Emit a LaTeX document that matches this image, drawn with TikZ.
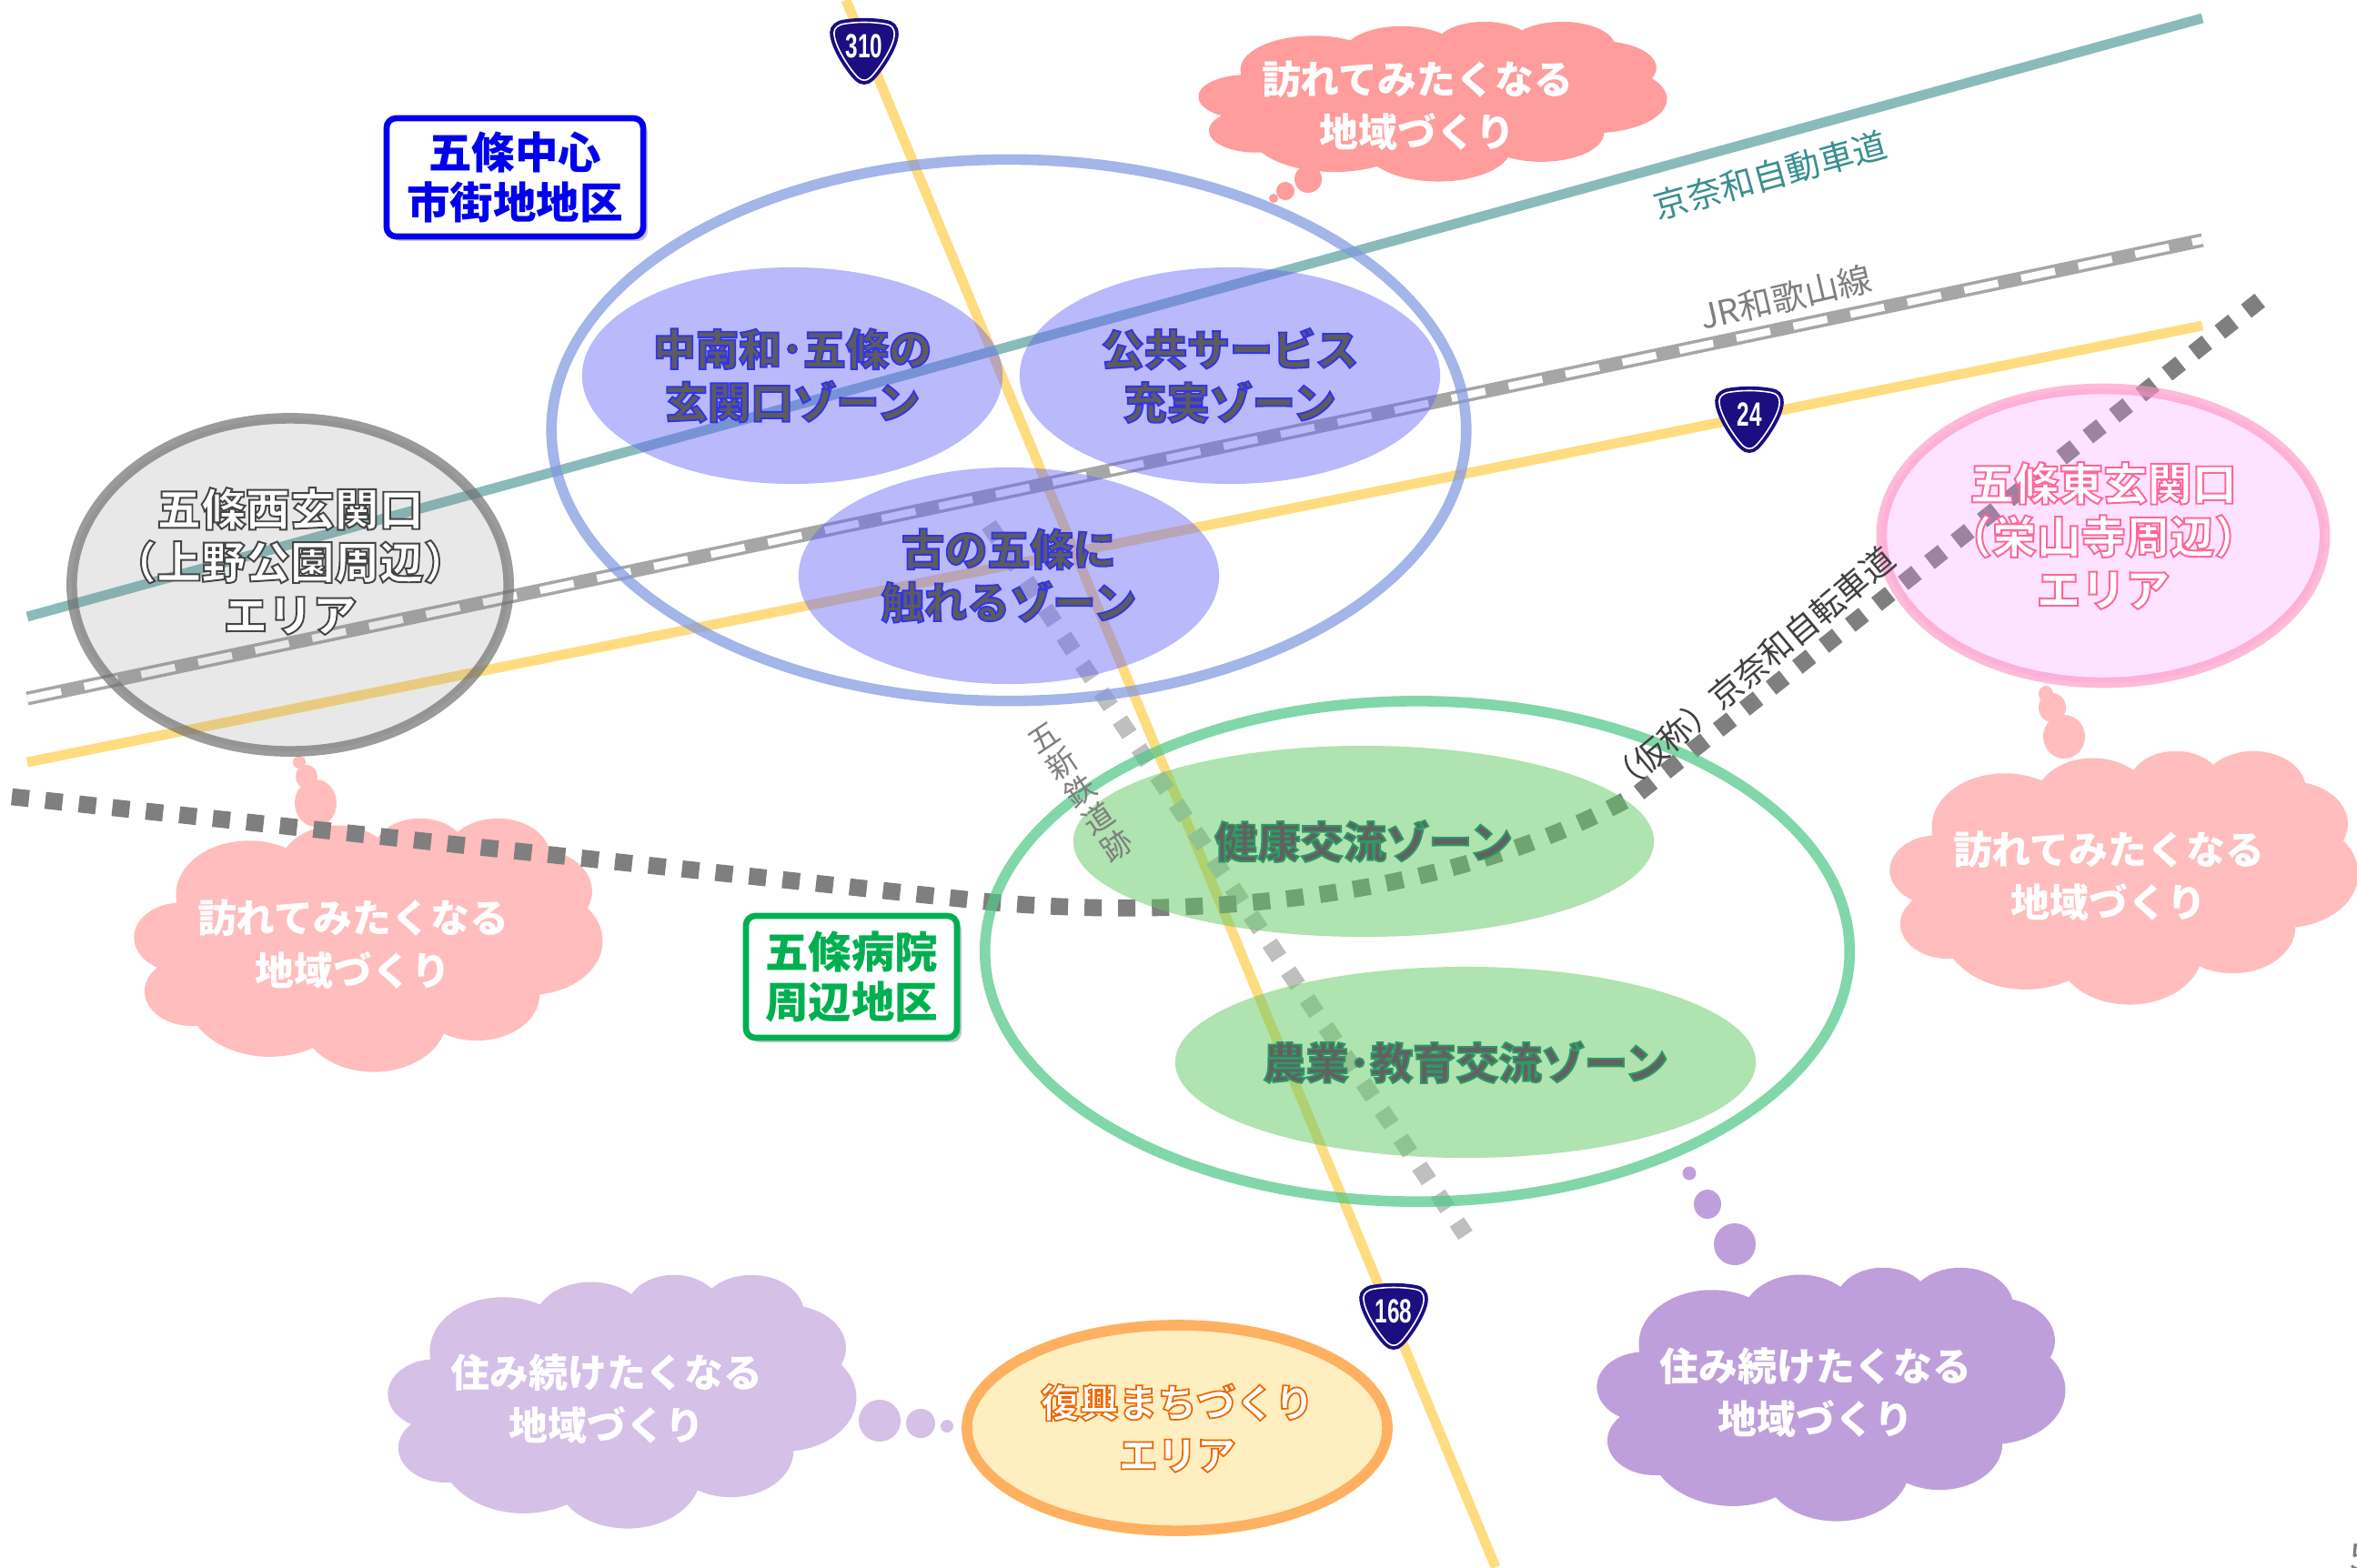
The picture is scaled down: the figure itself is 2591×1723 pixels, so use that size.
\documentclass[tikz,border=0pt]{standalone}
\usepackage{fontspec}
\usetikzlibrary{shapes.geometric, shadows}
\setmainfont{Noto Sans CJK JP}
\newfontfamily\ringfont[FakeBold=4]{Noto Sans CJK JP Black}
\newfontfamily\signfont[FakeStretch=.66]{Liberation Sans}
\definecolor{roadyellow}{HTML}{FFDC80}
\definecolor{roadteal}{HTML}{8ABBBB}
\definecolor{railgray}{HTML}{A6A6A6}
\definecolor{pathgray}{HTML}{7F7F7F}
\definecolor{oldgray}{HTML}{BFBFBF}
\definecolor{signblue}{HTML}{1C0D80}
\definecolor{cloudpink}{HTML}{FF9C9C}
\definecolor{cloudrose}{HTML}{FFBDBD}
\definecolor{cloudlilac}{HTML}{D5C0E8}
\definecolor{cloudviolet}{HTML}{BF9FDB}
\definecolor{ringblue}{HTML}{8098E0}
\definecolor{ringgreen}{HTML}{50C888}
\definecolor{zoneblue}{HTML}{6060F8}
\definecolor{zonegreen}{HTML}{60C860}
\definecolor{eastfill}{HTML}{F890FF}
\definecolor{eastring}{HTML}{FF90C0}
\definecolor{orangefill}{HTML}{FFEEC0}
\definecolor{orangering}{HTML}{FFB060}
\definecolor{labelblue}{HTML}{0000EE}
\definecolor{labelgreen}{HTML}{00B050}
\definecolor{labelteal}{HTML}{3A8F8F}

\begin{document}
\begin{tikzpicture}[
    x=0.01cm, y=-0.01cm,
    road/.style={roadyellow, line width=3.1pt},
    expressway/.style={roadteal, line width=3.1pt},
    railbase/.style={railgray, line width=4.3pt},
    raildash/.style={white, line width=2.3pt, dash pattern=on 10.8pt off 7.4pt},
    bikepath/.style={pathgray, line width=5.3pt, dash pattern=on 5.4pt off 5.135pt},
    oldrail/.style={oldgray, line width=5.3pt, dash pattern=on 5.4pt off 5.1pt},
    ring/.style={ellipse, inner sep=0pt, line width=3.3pt},
    zone/.style={ellipse, inner sep=0pt, fill opacity=#1, text opacity=1},
    ringtext/.style 2 args={font=\ringfont\fontsize{13.9}{16.6}\selectfont, align=center,
        execute at begin node={\special{pdf:bcolor [#2] [#1]}},
        execute at end node={\special{pdf:ecolor}}},
    cloudlabel/.style={font=\bfseries\fontsize{12.2}{16.4}\selectfont, align=center, white},
    bubble/.style={ellipse, inner sep=0pt, fill=#1},
    area/.style={rectangle, rounded corners=3pt, fill=white, line width=1.9pt, align=center,
        inner sep=0pt, font=\bfseries\fontsize{13.5}{15.6}\selectfont,
        drop shadow={shadow xshift=1.4pt, shadow yshift=-1.4pt, opacity=.45}},
    linelabel/.style={font=\fontsize{#1}{#1}\selectfont},
    pics/roadsign/.style={code={
        \path[scale=.92, fill=signblue, draw=signblue, line width=1.1pt, double=white, double distance=.45pt]
            (-36,-22) .. controls (-36,-28) and (-30,-31) .. (-26,-32)
            .. controls (-10,-35) and (10,-35) .. (26,-32)
            .. controls (32,-31) and (36,-28) .. (36,-20)
            .. controls (36,-5) and (15,25) .. (7,32)
            .. controls (3,36) and (-3,36) .. (-7,32)
            .. controls (-15,25) and (-36,-5) .. (-36,-22) -- cycle;
        \node[white, font=\signfont\bfseries\fontsize{10.5}{10.5}\selectfont] (-num) at (0,-5) {#1};
    }},
    pics/cloudblob/.style={code={
        \path[x=0.0119cm, y=-0.00644cm, shift={(-216,-216)}, fill=#1] (39,143.7)
            foreach \a/\b/\s/\w in {67.53/91.90/-190.487/123.781, 53.33/72.67/-144.102/89.945,
                43.65/59.45/-145.808/99.723, 48.57/65.95/-130.986/117.242,
                53.33/72.73/-78.709/109.027, 67.75/92.20/-46.267/130.269,
                57.85/78.67/0.625/114.033, 67.52/92.15/22.452/115.173,
                77.20/105.43/66.243/75.711, 43.60/59.18/-274.942/146.736,
                43.45/59.45/-246.829/152.519} {
              arc[x radius=\a, y radius=\b,
                  start angle={atan2(sin(\s)/\b,cos(\s)/\a)},
                  delta angle={Mod(atan2(sin(\s+\w)/\b,cos(\s+\w)/\a)-atan2(sin(\s)/\b,cos(\s)/\a),360)}]
            } -- cycle;
    }},
    bluezone/.style={zone=.44, fill=zoneblue, minimum width=4.62cm, minimum height=2.38cm,
        ringtext={.2 .2 .93}{.36 .36 .36}, font=\ringfont\fontsize{13.4}{16.6}\selectfont},
    greenzone/.style={zone=.5, fill=zonegreen, minimum width=6.38cm, minimum height=2.1cm,
        ringtext={.18 .6 .4}{.38 .38 .38}, font=\ringfont\fontsize{13.4}{16.6}\selectfont}
]
\useasboundingbox (0,0) rectangle (2591,1723);

% Clouds
\pic[yscale=.63] (wishn) at (1575,111) {cloudblob=cloudpink};
\pic (wishw) at (405,1038) {cloudblob=cloudrose};
\pic (wishe) at (2335,964) {cloudblob=cloudrose};
\pic (livew) at (684,1540) {cloudblob=cloudlilac};
\pic (livee) at (2013,1532) {cloudblob=cloudviolet};

% Bubbles
\node[bubble=cloudpink, minimum width=.3cm, minimum height=.3cm] (bn1) at (1438,197) {};
\node[bubble=cloudpink, minimum width=.2cm, minimum height=.2cm] (bn2) at (1413,210) {};
\node[bubble=cloudpink, minimum width=.1cm, minimum height=.1cm] (bn3) at (1400,218) {};
\node[bubble=cloudrose, minimum width=.46cm, minimum height=.52cm] (bw1) at (347,883) {};
\node[bubble=cloudrose, minimum width=.24cm, minimum height=.26cm] (bw2) at (337,854) {};
\node[bubble=cloudrose, minimum width=.14cm, minimum height=.14cm] (bw3) at (329,838) {};
\node[bubble=cloudrose, minimum width=.46cm, minimum height=.48cm] (be1) at (2269,810) {};
\node[bubble=cloudrose, minimum width=.3cm, minimum height=.32cm] (be2) at (2256,778) {};
\node[bubble=cloudrose, minimum width=.16cm, minimum height=.18cm] (be3) at (2249,763) {};
\node[bubble=cloudlilac, minimum width=.46cm, minimum height=.46cm] (bl1) at (967,1562) {};
\node[bubble=cloudlilac, minimum width=.32cm, minimum height=.32cm] (bl2) at (1012,1565) {};
\node[bubble=cloudlilac, minimum width=.14cm, minimum height=.14cm] (bl3) at (1041,1568) {};
\node[bubble=cloudviolet, minimum width=.46cm, minimum height=.46cm] (bv1) at (1907,1368) {};
\node[bubble=cloudviolet, minimum width=.3cm, minimum height=.32cm] (bv2) at (1877,1324) {};
\node[bubble=cloudviolet, minimum width=.15cm, minimum height=.15cm] (bv3) at (1857,1290) {};

% Line ends
\coordinate (r168a) at (930,0);
\coordinate (r168b) at (1644,1723);
\coordinate (r24a) at (30,838);
\coordinate (r24b) at (2421,358);
\coordinate (expa) at (30,678);
\coordinate (expb) at (2421,20);
\coordinate (jra) at (30,768);
\coordinate (jrb) at (2421,264);
\coordinate (bikea) at (13,876);
\coordinate (bikeb) at (1091,992);
\coordinate (bikec) at (1801,872);
\coordinate (biked) at (2492,324);
\coordinate (olda) at (1087,577);
\coordinate (oldb) at (1611,1358);

% Roads and rails
\draw[road] (r168a) -- (r168b);
\draw[road] (r24a) -- (r24b);
\draw[expressway] (expa) -- (expb);
\draw[railbase] (jra) -- (jrb);
\draw[raildash] (jra) -- (jrb);
\draw[oldrail] (olda) -- (oldb);
\draw[bikepath] (bikea) -- (bikeb) .. controls (1360,1015) and (1620,975) .. (bikec) -- (biked);

% Rings
\node[ring, draw=ringblue, draw opacity=.72, minimum width=10.05cm, minimum height=5.95cm] (center) at (1109,473) {};
\node[ring, draw=ringgreen, draw opacity=.72, minimum width=9.5cm, minimum height=5.5cm] (hospital) at (1558,1046) {};

% Zones
\node[bluezone] (gate) at (871,413) {中南和･五條の\\玄関口ゾーン};
\node[bluezone] (service) at (1352,413) {公共サービス\\充実ゾーン};
\node[bluezone] (old) at (1109,633) {古の五條に\\触れるゾーン};
\node[greenzone] (health) at (1499,925) {健康交流ゾーン};
\node[greenzone] (farm) at (1611,1168) {農業･教育交流ゾーン};

% Gateways
\node[ring, fill=gray, fill opacity=.18, draw=black!56, draw opacity=.7,
    minimum width=4.8cm, minimum height=3.66cm] (west) at (319,643) {};
\node[ringtext={.27 .27 .27}{1 1 1}] (westtext) at (319,617) {五條西玄関口\\（上野公園周辺）\\エリア};
\node[ring, fill=eastfill, fill opacity=.25, draw=eastring, draw opacity=.62, text opacity=1,
    minimum width=4.87cm, minimum height=3.23cm, ringtext={1 .4 .6}{1 1 1}] (east) at (2312,589) {五條東玄関口\\（栄山寺周辺）\\エリア};
\node[ring, fill=orangefill, draw=orangering, minimum width=4.62cm, minimum height=2.26cm,
    ringtext={.93 .4 0}{1 1 1}, font=\ringfont\fontsize{12.2}{16.4}\selectfont] (rebuild) at (1294,1570) {復興まちづくり\\エリア};

% Cloud texts
\node[cloudlabel] (wishntext) at (1558,116) {訪れてみたくなる\\地域づくり};
\node[cloudlabel] (wishwtext) at (388,1038) {訪れてみたくなる\\地域づくり};
\node[cloudlabel] (wishetext) at (2318,963) {訪れてみたくなる\\地域づくり};
\node[cloudlabel] (livewtext) at (667,1538) {住み続けたくなる\\地域づくり};
\node[cloudlabel] (liveetext) at (1996,1531) {住み続けたくなる\\地域づくり};

% District labels
\node[area, draw=labelblue, text=labelblue, minimum width=2.82cm, minimum height=1.3cm] (chubu) at (566,195) {五條中心\\市街地地区};
\node[area, draw=labelgreen, text=labelgreen, minimum width=2.32cm, minimum height=1.34cm] (byoin) at (936,1074) {五條病院\\周辺地区};

% Line labels
\node[linelabel=10.7, text=labelteal, rotate=15.4] (explabel) at (1946,193) {京奈和自動車道};
\node[linelabel=10.6, text=pathgray, rotate=13] (jrlabel) at (1963,327) {JR和歌山線};
\node[linelabel=10.3, text=black!75, rotate=40] (bikelabel) at (1925,737) {（仮称）京奈和自転車道};
\node[font=\fontsize{9.5}{10.2}\selectfont, text=pathgray, align=center, rotate=34] (oldlabel) at (1188,871) {五\\新\\鉄\\道\\跡};

% Road signs
\pic (s310) at (950,56) {roadsign=310};
\pic (s24) at (1923,461) {roadsign=24};
\pic (s168) at (1532,1447) {roadsign=168};

\node[anchor=north west, inner sep=0pt, text=pathgray, font=\fontsize{11.5}{11.5}\selectfont] (pageno) at (2583,1697) {5};

\end{tikzpicture}
\end{document}
